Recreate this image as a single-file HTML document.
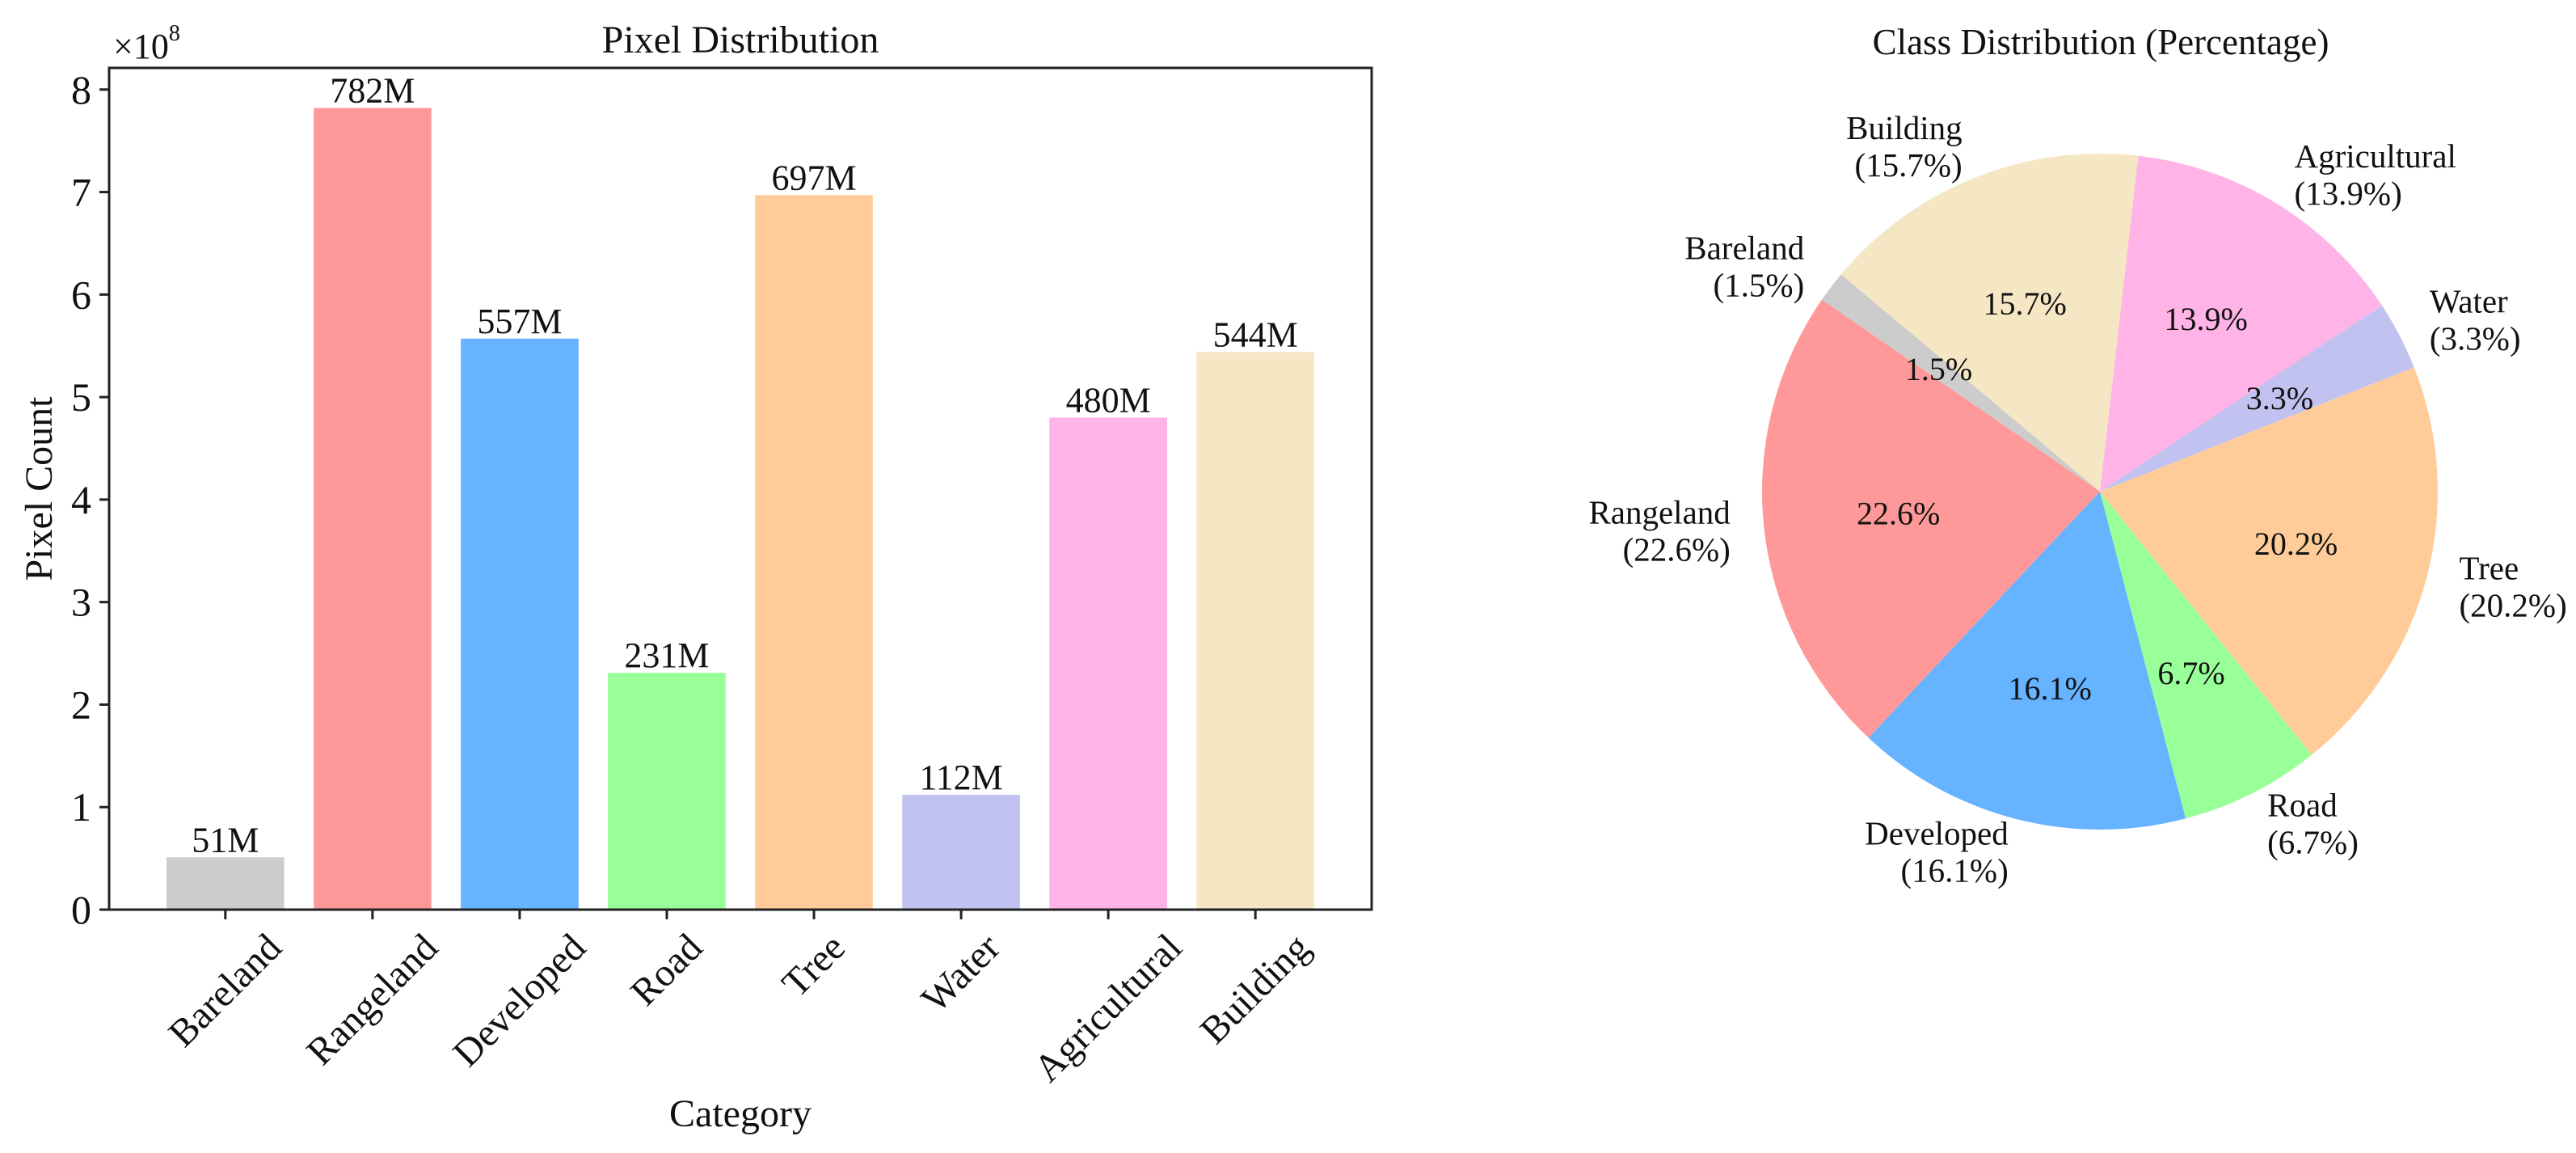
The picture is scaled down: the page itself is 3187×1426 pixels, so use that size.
<!DOCTYPE html>
<html><head><meta charset="utf-8">
<style>
html,body{margin:0;padding:0;background:#fff;}
svg{display:block;font-family:"Liberation Serif","DejaVu Serif",serif;}
</style></head>
<body>
<svg id="fig" width="3187" height="1426" viewBox="0 0 3187 1426" xmlns="http://www.w3.org/2000/svg">
  <rect width="3187" height="1426" fill="#fff"/>
  <g id="bar"></g>
  <g id="pie"></g>
  <g id="pieText"></g>
</svg>
<script>
const categories = ["Bareland","Rangeland","Developed","Road","Tree","Water","Agricultural","Building"];
const pixelCountsM = [51, 782, 557, 231, 697, 112, 480, 544];
const barLabels = ["51M","782M","557M","231M","697M","112M","480M","544M"];
const pieCategories = ["Bareland","Rangeland","Developed","Road","Tree","Water","Agricultural","Building"];
const piePercents = [1.5, 22.6, 16.1, 6.7, 20.2, 3.3, 13.9, 15.7];
const yTicks = [0,1,2,3,4,5,6,7,8];
const colors = ["#cccccc","#ff9999","#66b3ff","#99ff99","#ffcc99","#c2c2f0","#ffb3e6","#f5e6c4"];

const NS = "http://www.w3.org/2000/svg";
function mk(tag, attrs, parent){
  const e = document.createElementNS(NS, tag);
  for (const k in attrs) e.setAttribute(k, attrs[k]);
  parent.appendChild(e);
  return e;
}

// ---------- BAR CHART ----------
const bar = document.getElementById('bar');
const ax = {l:135, r:1697, t:84, b:1125};
const n = categories.length;
const xMin = -0.4 - 0.05*(n-1+0.8), xMax = (n-1)+0.4 + 0.05*(n-1+0.8);
const yMax = Math.max(...pixelCountsM)/100*1.05;
function xs(i){ return ax.l + (i - xMin)/(xMax - xMin)*(ax.r-ax.l); }
function ys(v){ return ax.b - v/yMax*(ax.b-ax.t); }
const bw = (xs(1)-xs(0))*0.8;

pixelCountsM.forEach((v,i)=>{
  const val = v/100;
  const r = mk('rect',{x:xs(i)-bw/2, y:ys(val), width:bw, height:ys(0)-ys(val), fill:colors[i]}, bar);
  
  
  const t = mk('text',{x:xs(i), y:ys(val)-7, 'text-anchor':'middle', 'font-size':44, fill:'#111'}, bar);
  t.textContent = barLabels[i];
  
  
});

const frame = mk('rect',{x:ax.l, y:ax.t, width:ax.r-ax.l, height:ax.b-ax.t, fill:'none', stroke:'#222', 'stroke-width':3}, bar);



yTicks.forEach(v=>{
  const y = ys(v);
  const tk = mk('line',{x1:ax.l-12, x2:ax.l, y1:y, y2:y, stroke:'#222', 'stroke-width':3}, bar);
  
  
  const t = mk('text',{x:ax.l-22, y:y+17, 'text-anchor':'end', 'font-size':50, fill:'#111'}, bar);
  t.textContent = String(v);
  
  
});

categories.forEach((c,i)=>{
  const x = xs(i);
  const tk = mk('line',{x1:x, x2:x, y1:ax.b, y2:ax.b+12, stroke:'#222', 'stroke-width':3}, bar);
  
  
  const t = mk('text',{x:0, y:0, 'text-anchor':'middle', 'font-size':48, fill:'#111'}, bar);
  t.textContent = c;
  
  
  const w = t.getComputedTextLength();
  const h = 40;
  const bboxH = (w + h)*Math.SQRT1_2;
  const cy = 1150 + bboxH/2;
  t.setAttribute('transform', `translate(${x},${cy}) rotate(-45) translate(0,15)`);
});

const ttl = mk('text',{x:(ax.l+ax.r)/2, y:65, 'text-anchor':'middle', 'font-size':48, fill:'#111'}, bar);
ttl.textContent = 'Pixel Distribution';



const mult = mk('text',{x:140, y:72, 'font-size':44, fill:'#111'}, bar);


mult.innerHTML = '×10<tspan dy="-22" font-size="28">8</tspan>';

const yl = mk('text',{x:0, y:0, 'text-anchor':'middle', 'font-size':48, fill:'#111', transform:`translate(64,${(ax.t+ax.b)/2}) rotate(-90)`}, bar);
yl.textContent = 'Pixel Count';



const xl = mk('text',{x:(ax.l+ax.r)/2, y:1393, 'text-anchor':'middle', 'font-size':48, fill:'#111'}, bar);
xl.textContent = 'Category';



// ---------- PIE CHART ----------
const pie = document.getElementById('pie');
const pieText = document.getElementById('pieText');
const cx = 2598, cy = 608, R = 418, startAngle = 140;
const total = piePercents.reduce((a,b)=>a+b,0);
let ang = startAngle;
function pt(a, r){ const rad = a*Math.PI/180; return [cx + r*Math.cos(rad), cy - r*Math.sin(rad)]; }
piePercents.forEach((p,i)=>{
  const sweep = p/total*360;
  const a0 = ang, a1 = ang + sweep;
  const [x0,y0] = pt(a0,R), [x1,y1] = pt(a1,R);
  const large = sweep > 180 ? 1 : 0;
  const path = mk('path',{d:`M${cx},${cy} L${x0},${y0} A${R},${R} 0 ${large} 0 ${x1},${y1} Z`, fill:colors[i]}, pie);
  
  
  const mid = (a0+a1)/2;
  const [px,py] = pt(mid, R*0.6);
  const pt1 = mk('text',{x:px, y:py+14, 'text-anchor':'middle', 'font-size':40, fill:'#111'}, pieText);
  pt1.textContent = p.toFixed(1)+'%';
  
  
  const [lx,ly] = pt(mid, R*1.1);
  const anchor = lx < cx ? 'end' : 'start';
  const lab = mk('text',{x:lx, y:ly-9, 'text-anchor':anchor, 'font-size':41, fill:'#111'}, pieText);
  lab.textContent = pieCategories[i];
  
  
  const lab2 = mk('text',{x:lx, y:ly+37, 'text-anchor':anchor, 'font-size':41, fill:'#111'}, pieText);
  lab2.textContent = '('+p.toFixed(1)+'%)';
  
  
  ang = a1;
});
const pttl = mk('text',{x:2599, y:67, 'text-anchor':'middle', 'font-size':45, fill:'#111'}, pieText);
pttl.textContent = 'Class Distribution (Percentage)';


</script>
</body></html>
